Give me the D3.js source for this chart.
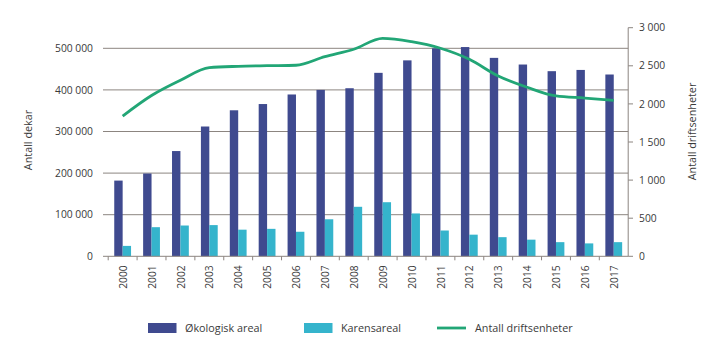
<!DOCTYPE html>
<html>
<head>
<meta charset="utf-8">
<script src="https://cdn.jsdelivr.net/npm/d3@7/dist/d3.min.js"></script>
<style>
  html, body { margin: 0; padding: 0; background: #fff; }
  svg { display: block; }
  text { font-family: "Open Sans", "Noto Sans", sans-serif; fill: #3a3a3a; }
</style>
</head>
<body>
<svg id="chart" width="719" height="341"></svg>
<script>
const years = ["2000","2001","2002","2003","2004","2005","2006","2007","2008","2009","2010","2011","2012","2013","2014","2015","2016","2017"];
const okologisk = [182000, 199000, 253000, 312000, 351000, 366000, 389000, 400000, 404000, 441000, 471000, 500000, 503000, 477000, 461000, 445000, 448000, 437000];
const karens = [25000, 70000, 74000, 75000, 64000, 66000, 59000, 89000, 119000, 130000, 103000, 62000, 52000, 46000, 40000, 34000, 31000, 34000];
const driftsenheter = [1840, 2110, 2310, 2475, 2493, 2501, 2507, 2620, 2717, 2861, 2817, 2730, 2585, 2366, 2218, 2104, 2077, 2047];
const leftTicks = [0, 100000, 200000, 300000, 400000, 500000];
const rightTicks = [0, 500, 1000, 1500, 2000, 2500, 3000];
const seriesNames = ["Økologisk areal", "Karensareal", "Antall driftsenheter"];
const colors = { oko: "#3f4a8f", karens: "#35b4cc", line: "#22a676", grid: "#8c8580" };

const svg = d3.select("#chart");
const fmt = v => d3.format(",")(v).replace(/,/g, "\u2009");
const fmtN = v => v === 0 ? "0" : d3.format(",")(v).replace(/,/g, " ");

const x = d3.scaleBand().domain(years).range([108.2, 628.2]).padding(0);
const yL = d3.scaleLinear().domain([0, 500000]).range([256.3, 48.3]);
const yR = d3.scaleLinear().domain([0, 3000]).range([256.3, 27.7]);

const barW = 8.4;
const fs = "10.3px";

// gridlines
svg.append("g").selectAll("line").data(leftTicks.filter(d => d > 0)).join("line")
  .attr("x1", 103).attr("x2", 628.2)
  .attr("y1", d => yL(d)).attr("y2", d => yL(d))
  .attr("stroke", colors.grid).attr("stroke-width", 1);

// left tick labels
svg.append("g").selectAll("text").data(leftTicks).join("text")
  .attr("x", 93).attr("y", d => yL(d)).attr("dy", "0.35em")
  .attr("text-anchor", "end").style("font-size", fs)
  .text(d => fmtN(d));

// bars
const cx = d => x(d) + x.bandwidth() / 2;
svg.append("g").selectAll("rect").data(years).join("rect")
  .attr("x", (d) => cx(d) - barW).attr("width", barW)
  .attr("y", (d, i) => yL(okologisk[i])).attr("height", (d, i) => yL(0) - yL(okologisk[i]))
  .attr("fill", colors.oko);
svg.append("g").selectAll("rect").data(years).join("rect")
  .attr("x", (d) => cx(d)).attr("width", barW)
  .attr("y", (d, i) => yL(karens[i])).attr("height", (d, i) => yL(0) - yL(karens[i]))
  .attr("fill", colors.karens);

// bottom axis
const gx = svg.append("g").attr("transform", `translate(0,${yL(0)})`);
gx.append("line").attr("x1", 103).attr("x2", 628.2).attr("y1", 0).attr("y2", 0)
  .attr("stroke", colors.grid);
const edges = years.map(d => x(d)).concat([x.range()[1]]);
gx.selectAll("line.tk").data(edges.slice(0, -1)).join("line").attr("class", "tk")
  .attr("x1", d => d).attr("x2", d => d).attr("y1", 0).attr("y2", 4)
  .attr("stroke", colors.grid);
gx.selectAll("text").data(years).join("text")
  .attr("transform", d => `translate(${cx(d) + 0.5},${9}) rotate(-90)`)
  .attr("text-anchor", "end").attr("dy", "0.35em").style("font-size", fs)
  .text(d => d);

// right axis
const gr = svg.append("g");
gr.append("line").attr("x1", 628.2).attr("x2", 628.2).attr("y1", yR(3000)).attr("y2", yR(0))
  .attr("stroke", colors.grid);
gr.selectAll("line.tk").data(rightTicks).join("line").attr("class", "tk")
  .attr("x1", 628.2).attr("x2", 633).attr("y1", d => yR(d)).attr("y2", d => yR(d))
  .attr("stroke", colors.grid);
gr.selectAll("text").data(rightTicks).join("text")
  .attr("x", 639).attr("y", d => yR(d)).attr("dy", "0.35em")
  .style("font-size", fs).text(d => fmtN(d));

// line
const line = d3.line().x((d, i) => cx(years[i])).y(d => yR(d)).curve(d3.curveMonotoneX);
svg.append("path").datum(driftsenheter).attr("d", line)
  .attr("fill", "none").attr("stroke", colors.line).attr("stroke-width", 2.8)
  .attr("stroke-linejoin", "round").attr("stroke-linecap", "butt");

// axis titles
svg.append("text").attr("transform", "translate(32,140) rotate(-90)")
  .attr("text-anchor", "middle").style("font-size", "10.8px").text("Antall dekar");
svg.append("text").attr("transform", "translate(696,131.5) rotate(-90)")
  .attr("text-anchor", "middle").style("font-size", "10.8px").text("Antall driftsenheter");

// legend
const lg = svg.append("g");
const lgY = 328;
lg.append("rect").attr("x", 148).attr("y", lgY - 5).attr("width", 28.5).attr("height", 10).attr("fill", colors.oko);
lg.append("text").attr("x", 185).attr("y", lgY).attr("dy", "0.35em").style("font-size", "10.8px").text(seriesNames[0]);
lg.append("rect").attr("x", 304).attr("y", lgY - 5).attr("width", 28.5).attr("height", 10).attr("fill", colors.karens);
lg.append("text").attr("x", 341).attr("y", lgY).attr("dy", "0.35em").style("font-size", "10.8px").text(seriesNames[1]);
lg.append("line").attr("x1", 437).attr("x2", 466).attr("y1", lgY).attr("y2", lgY)
  .attr("stroke", colors.line).attr("stroke-width", 2.8);
lg.append("text").attr("x", 475).attr("y", lgY).attr("dy", "0.35em").style("font-size", "10.8px").text(seriesNames[2]);
</script>
</body>
</html>
